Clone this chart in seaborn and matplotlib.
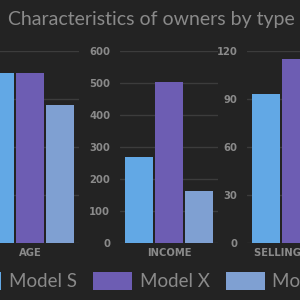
import matplotlib
matplotlib.use("Agg")
import matplotlib.pyplot as plt
import seaborn as sns
import pandas as pd
from matplotlib.patches import Patch

models = ["Model S", "Model X", "Model 3"]
colors = ["#62a8e5", "#6d5db3", "#7fa0d2"]
categories = ["AGE", "INCOME", "SELLING PRICE"]
age = [53, 53, 43]
income = [267, 502, 161]
selling = [93, 115, 70]
yticks_age = [0, 15, 30, 45, 60]
yticks_income = [0, 100, 200, 300, 400, 500, 600]
yticks_selling = [0, 30, 60, 90, 120]

sns.set_theme(style="dark")
bg = "#232323"
plt.rcParams["font.family"] = ["Lato", "DejaVu Sans"]

W = H = 300
fig = plt.figure(figsize=(3, 3), dpi=100, facecolor=bg)

panels = [(age, yticks_age, -19), (income, yticks_income, 120), (selling, yticks_selling, 247)]
top, bottom = 50.7, 242.7
for i, ((vals, yt, left), cat) in enumerate(zip(panels, categories)):
    ax = fig.add_axes([left / W, 1 - bottom / H, 98 / W, (bottom - top) / H])
    ax.set_facecolor(bg)
    df = pd.DataFrame({"model": models, "value": vals})
    sns.barplot(data=df, x="model", y="value", hue="model", palette=colors,
                width=0.92, ax=ax, legend=False, saturation=1, linewidth=0)
    ax.set_xlim(-0.62, 2.62)
    ax.set_ylim(yt[0], yt[-1])
    ax.set_yticks(yt)
    ax.set_xticks([1])
    ax.set_xticklabels([cat])
    ax.set_xlabel("")
    ax.set_ylabel("")
    for s in ax.spines.values():
        s.set_visible(False)
    ax.grid(axis="y", color="#3c3c3c", linewidth=1)
    ax.grid(axis="x", visible=False)
    ax.set_axisbelow(True)
    ax.tick_params(axis="y", length=0, pad=7, labelcolor="#8a8a8a", labelsize=8,
                   labelleft=(i != 0))
    ax.tick_params(axis="x", length=0, pad=4, labelcolor="#8a8a8a", labelsize=8)
    for lab in ax.get_yticklabels() + ax.get_xticklabels():
        lab.set_fontfamily(["DejaVu Sans"])
        lab.set_fontweight("bold")
        lab.set_fontstretch("condensed")

fig.text(0.503, 1 - 20 / H, "Characteristics of owners by type", ha="center", va="center",
         color="#8a8a8a", fontsize=14)

handles = [Patch(facecolor=c, edgecolor="none") for c in colors]
fig.legend(handles, models, loc="center", bbox_to_anchor=(0.505, 1 - 281 / H), ncol=3,
           frameon=False, fontsize=13.5, handlelength=2.1, handleheight=1.1,
           handletextpad=0.4, columnspacing=0.85, labelcolor="#8a8a8a")

fig.savefig("out.png", dpi=100, facecolor=bg)
